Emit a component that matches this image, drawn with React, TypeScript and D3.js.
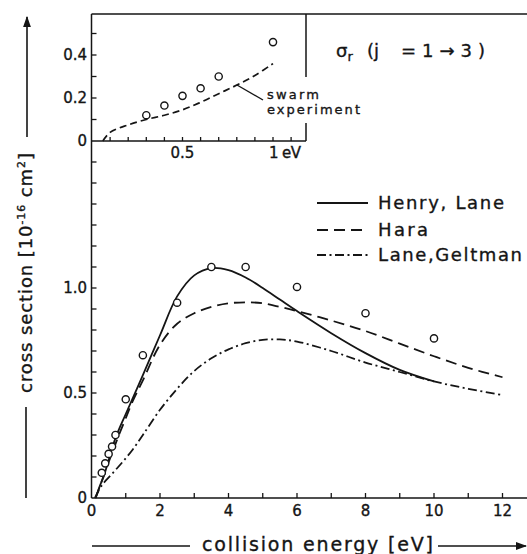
import React from "react";
import * as d3 from "d3";

// Rotational excitation cross section of H2 (j = 1 -> 3) versus collision energy

// Henry & Lane (solid)
const henryLaneE = [0.12, 0.25, 0.35, 0.5, 0.7, 1, 1.5, 2, 2.5, 3, 3.5, 4, 4.5, 5, 5.5, 6, 7, 8, 9, 10];
const henryLaneQ = [0, 0.06, 0.1, 0.18, 0.285, 0.4, 0.585, 0.775, 0.96, 1.06, 1.095, 1.085, 1.05, 1.0, 0.945, 0.89, 0.785, 0.69, 0.61, 0.555];

// Hara (dashed)
const haraE = [0.12, 0.5, 0.8, 1, 1.2, 1.5, 2, 2.5, 3, 3.5, 4, 4.5, 5, 5.5, 6, 7, 8, 9, 10, 11, 12];
const haraQ = [0, 0.17, 0.3, 0.38, 0.46, 0.56, 0.73, 0.83, 0.88, 0.91, 0.927, 0.932, 0.927, 0.91, 0.89, 0.845, 0.795, 0.735, 0.675, 0.62, 0.575];

// Lane & Geltman (dash-dot)
const laneGeltmanE = [0.1, 0.3, 0.6, 0.9, 1.2, 1.5, 2, 2.5, 3, 3.5, 4, 4.5, 5, 5.5, 6, 7, 8, 9, 10, 11, 12];
const laneGeltmanQ = [0, 0.06, 0.115, 0.17, 0.23, 0.3, 0.42, 0.52, 0.605, 0.665, 0.708, 0.737, 0.753, 0.755, 0.745, 0.7, 0.645, 0.6, 0.555, 0.52, 0.49];

// Measured points (circles)
const measuredE = [0.3, 0.4, 0.5, 0.6, 0.7, 1.0, 1.5, 2.5, 3.5, 4.5, 6, 8, 10];
const measuredQ = [0.12, 0.165, 0.21, 0.245, 0.3, 0.47, 0.68, 0.93, 1.1, 1.1, 1.005, 0.88, 0.76];

// Low-energy detail (inset)
const insetPointE = [0.3, 0.4, 0.5, 0.6, 0.7, 1.0];
const insetPointQ = [0.12, 0.165, 0.21, 0.245, 0.3, 0.46];
const swarmE = [0.06, 0.1, 0.2, 0.3, 0.4, 0.5, 0.6, 0.7, 0.8, 0.9, 1.0];
const swarmQ = [0, 0.04, 0.075, 0.1, 0.12, 0.145, 0.18, 0.22, 0.26, 0.305, 0.36];

// Axis ticks
const mainXTicks = [1, 2, 3, 4, 5, 6, 7, 8, 9, 10, 11, 12];
const mainXLabels = [0, 2, 4, 6, 8, 10, 12];
const mainYTicks = d3.range(1, 17).map((i) => i / 10);
const mainYLabels = ["0", "0.5", "1.0"];
const insetXTicks = d3.range(1, 12).map((i) => i / 10);
const insetYTicks = [0.1, 0.2, 0.3, 0.4, 0.5];
const insetYLabels = ["0", "0.2", "0.4"];

const legendNames = ["Henry, Lane", "Hara", "Lane,Geltman"];
const legendWidths = [126, 50, 144];

const INK = "#151515";
const FONT = "'DejaVu Sans', 'Noto Sans', sans-serif";

export default function App() {
  const W = 527;
  const H = 554;

  // main panel scales
  const x = d3.scaleLinear().domain([0, 12]).range([91.5, 502.5]);
  const y = d3.scaleLinear().domain([0, 1]).range([498, 288]);
  // inset scales
  const xi = d3.scaleLinear().domain([0, 1]).range([92, 273]);
  const yi = d3.scaleLinear().domain([0, 0.2]).range([141, 98]);

  const mainLine = d3
    .line<[number, number]>()
    .x((d) => x(d[0]))
    .y((d) => y(d[1]))
    .curve(d3.curveCatmullRom.alpha(0.5));
  const insetLine = d3
    .line<[number, number]>()
    .x((d) => xi(d[0]))
    .y((d) => yi(d[1]))
    .curve(d3.curveCatmullRom.alpha(0.5));

  const zip = (a: number[], b: number[]) => a.map((v, i) => [v, b[i]] as [number, number]);

  const dashes = ["none", "11 6", "9 3.5 2 3.5"];
  const series = [
    zip(henryLaneE, henryLaneQ),
    zip(haraE, haraQ),
    zip(laneGeltmanE, laneGeltmanQ),
  ];

  const axisX0 = 91.5;
  const insetRight = 306;
  // slight outline thickens the lettering
  const textInk = { stroke: INK, strokeWidth: 0.35 };

  return (
    <svg
      width={W}
      height={H}
      viewBox={`0 0 ${W} ${H}`}
      style={{ position: "absolute", left: 0, top: 0, background: "#fff" }}
      fontFamily={FONT}
      fill={INK}
    >
      <defs>
        <marker id="arrowHead" viewBox="0 0 10 10" refX="9" refY="5" markerWidth="7" markerHeight="7" orient="auto">
          <path d="M0,1.5 L10,5 L0,8.5 Z" fill={INK} />
        </marker>
      </defs>

      {/* frame: shared left axis, top border, main x axis */}
      <g stroke={INK} strokeWidth={1.5} fill="none">
        <line x1={axisX0} y1={14} x2={axisX0} y2={498} />
        <line x1={axisX0} y1={14} x2={W} y2={14} />
        <line x1={axisX0} y1={498} x2={W} y2={498} />
        {/* inset box */}
        <line x1={axisX0} y1={yi(0)} x2={insetRight} y2={yi(0)} />
        <line x1={insetRight} y1={14} x2={insetRight} y2={77} />
        <line x1={insetRight} y1={123} x2={insetRight} y2={yi(0)} />
      </g>

      {/* ticks */}
      <g stroke={INK} strokeWidth={1.3}>
        {mainXTicks.map((t) => (
          <line key={"mx" + t} x1={x(t)} x2={x(t)} y1={498} y2={493} />
        ))}
        {mainYTicks.map((t) => (
          <line key={"my" + t} x1={axisX0} x2={axisX0 + 5} y1={y(t)} y2={y(t)} />
        ))}
        {insetXTicks.map((t) => (
          <line key={"ix" + t} x1={xi(t)} x2={xi(t)} y1={yi(0)} y2={yi(0) - 4} />
        ))}
        {insetYTicks.map((t) => (
          <line key={"iy" + t} x1={axisX0} x2={axisX0 + 5} y1={yi(t)} y2={yi(t)} />
        ))}
      </g>

      {/* tick labels */}
      <g fontSize={15} textAnchor="middle" {...textInk}>
        {mainXLabels.map((t) => (
          <text key={"lx" + t} x={x(t)} y={516}>
            {t}
          </text>
        ))}
      </g>
      <g fontSize={15} textAnchor="end" {...textInk}>
        {mainYLabels.map((t) => (
          <text key={"ly" + t} x={87} y={y(+t) + 5}>
            {t}
          </text>
        ))}
        {insetYLabels.map((t) => (
          <text key={"liy" + t} x={87} y={yi(+t) + 5}>
            {t}
          </text>
        ))}
      </g>
      <g fontSize={15} {...textInk}>
        <text x={xi(0.5)} y={158} textAnchor="middle">0.5</text>
        <text x={xi(1) - 4} y={158} textLength={32} lengthAdjust="spacing">1 eV</text>
      </g>

      {/* main curves */}
      <g fill="none" stroke={INK} strokeWidth={1.8} strokeLinecap="butt">
        {series.map((s, i) => (
          <path key={"s" + i} d={mainLine(s) ?? ""} strokeDasharray={dashes[i]} />
        ))}
      </g>
      <g fill="#fff" stroke={INK} strokeWidth={1.4}>
        {measuredE.map((e, i) => (
          <circle key={"m" + i} cx={x(e)} cy={y(measuredQ[i])} r={3.6} />
        ))}
      </g>

      {/* inset curve and points */}
      <path d={insetLine(zip(swarmE, swarmQ)) ?? ""} fill="none" stroke={INK} strokeWidth={1.7} strokeDasharray="7 4" />
      <g fill="#fff" stroke={INK} strokeWidth={1.4}>
        {insetPointE.map((e, i) => (
          <circle key={"ip" + i} cx={xi(e)} cy={yi(insetPointQ[i])} r={3.6} />
        ))}
      </g>
      <line x1={237} y1={85} x2={263} y2={100} stroke={INK} strokeWidth={1.4} />
      <g fontSize={13} {...textInk}>
        <text x={267} y={99} textLength={52} lengthAdjust="spacing">swarm</text>
        <text x={267} y={114} textLength={93} lengthAdjust="spacing">experiment</text>
      </g>

      {/* title */}
      <g fontSize={18} {...textInk}>
        <text x={336} y={57}>
          σ<tspan fontSize={13} dy={4}>r</tspan>
        </text>
        <text x={367} y={57}>(j</text>
        <text x={401} y={57}>=</text>
        <text x={422} y={57} textLength={63} lengthAdjust="spacing">1→3)</text>
      </g>

      {/* legend */}
      {legendNames.map((name, i) => {
        const ly = [203, 230, 255][i];
        return (
          <g key={"leg" + i}>
            <line x1={317} x2={368} y1={ly} y2={ly} stroke={INK} strokeWidth={1.8} strokeDasharray={dashes[i]} />
            <text x={378} y={ly + 6} fontSize={18} textLength={legendWidths[i]} lengthAdjust="spacing" {...textInk}>
              {name}
            </text>
          </g>
        );
      })}

      {/* y axis title */}
      <g transform="translate(32,273) rotate(-90)">
        <text x={-120} y={0} fontSize={18} textLength={240} lengthAdjust="spacing" {...textInk}>
          cross section{"  "}[10<tspan fontSize={11} dy={-7}>-16</tspan>
          <tspan dy={7}> cm</tspan>
          <tspan fontSize={11} dy={-7}>2</tspan>
          <tspan dy={7}>]</tspan>
        </text>
      </g>
      <line x1={27} y1={137} x2={27} y2={17} stroke={INK} strokeWidth={1.6} markerEnd="url(#arrowHead)" />
      <line x1={26} y1={407} x2={26} y2={498} stroke={INK} strokeWidth={1.6} />

      {/* x axis title */}
      <line x1={92} y1={546} x2={190} y2={546} stroke={INK} strokeWidth={1.6} />
      <text x={202} y={551} fontSize={19} textLength={231} lengthAdjust="spacing" {...textInk}>
        collision energy{"  "}[eV]
      </text>
      <line x1={438} y1={546} x2={526} y2={546} stroke={INK} strokeWidth={1.6} markerEnd="url(#arrowHead)" />
    </svg>
  );
}
